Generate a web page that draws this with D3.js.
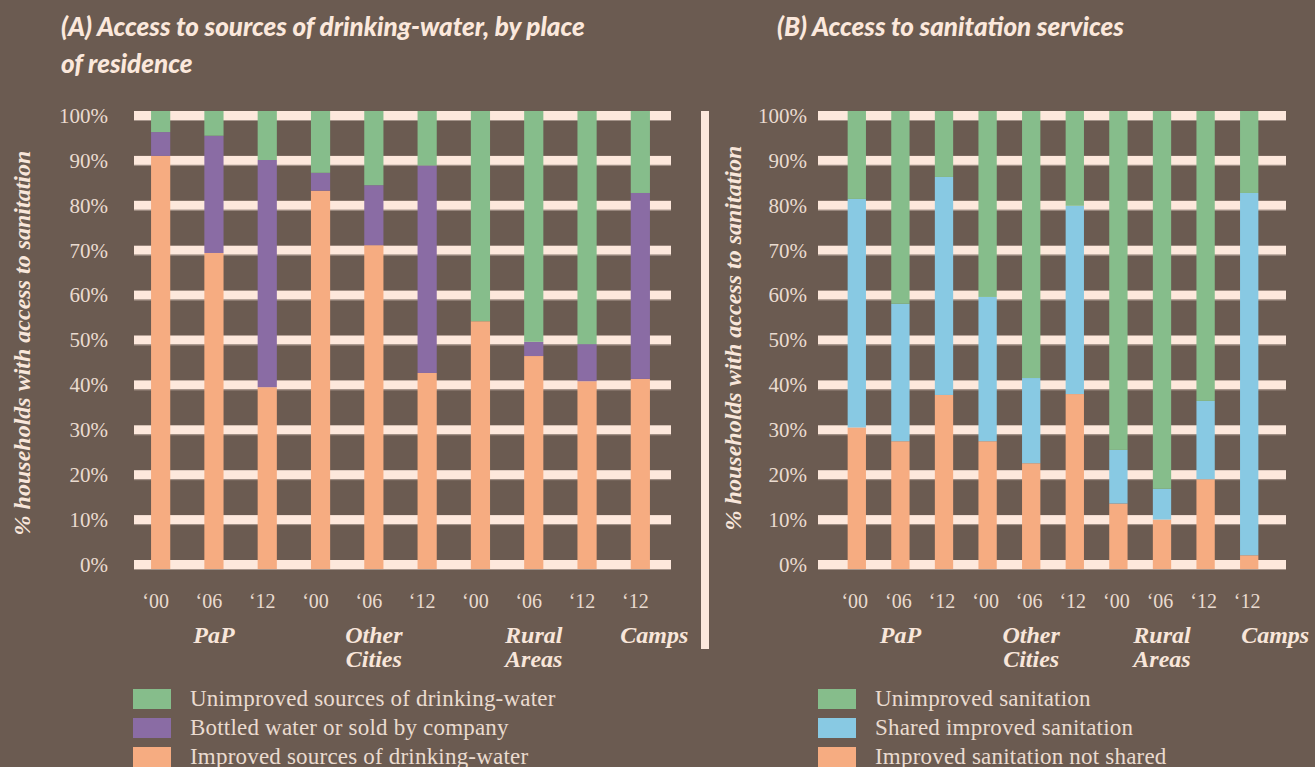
<!DOCTYPE html>
<html><head><meta charset="utf-8">
<script src="https://cdn.jsdelivr.net/npm/d3@7"></script>
<style>
html,body{margin:0;padding:0;background:#6b5b51;}
svg{display:block;}
</style></head>
<body>
<svg id="chart" width="1315" height="767"></svg>
<script>
// ---- data ----
const years = ["\u201800","\u201806","\u201812","\u201800","\u201806","\u201812","\u201800","\u201806","\u201812","\u201812"];
const groupNames = [["PaP"],["Other","Cities"],["Rural","Areas"],["Camps"]];
const groupBars = [[0,1,2],[3,4,5],[6,7,8],[9]];
const yTicks = [0,10,20,30,40,50,60,70,80,90,100];

const waterImproved    = [90.2,69.0,39.7,82.6,70.7,42.8,54.1,46.5,41.0,41.5];
const waterBottled     = [5.2,25.6,49.6,3.9,13.1,45.3,0.0,3.1,8.1,40.6];
const waterUnimproved  = [4.6,5.4,10.7,13.5,16.2,11.9,45.9,50.4,50.9,17.9];

const sanNotShared     = [30.9,27.9,38.0,27.9,23.1,38.2,14.3,10.8,19.6,3.0];
const sanShared        = [49.9,30.0,47.6,31.5,18.6,41.1,11.7,6.7,17.1,79.1];
const sanUnimproved    = [19.2,42.1,14.4,40.6,58.3,20.7,74.0,82.5,63.3,17.9];

const waterLegend = ["Unimproved sources of drinking-water","Bottled water or sold by company","Improved sources of drinking-water"];
const sanLegend = ["Unimproved sanitation","Shared improved sanitation","Improved sanitation not shared"];

// ---- style ----
const C = {bg:"#6b5b51", grid:"#fde8dc", green:"#86bd8b", purple:"#8a6ca4", orange:"#f6ac81", blue:"#88c9e3",
           title:"#fbe8dc", tick:"#eadbd0", label:"#f8e6da"};
const serif = "'Liberation Serif','DejaVu Serif',serif";

const svg = d3.select("#chart");

function panel(opt){
  const g = svg.append("g");
  const n = years.length;
  const x = d3.scaleBand().domain(d3.range(n)).range(opt.xRange).paddingInner(opt.padInner).paddingOuter(opt.padOuter);
  const y = d3.scaleLinear().domain([0,100]).range([569,111]);
  const yg = d3.scaleLinear().domain([0,100]).range([560,111]);

  // gridline bands
  g.selectAll("rect.grid").data(yTicks).join("rect")
    .attr("x",opt.gridX[0]).attr("width",opt.gridX[1]-opt.gridX[0])
    .attr("y",d=>yg(d)).attr("height",9).attr("fill",C.grid);
  g.selectAll("line.gs").data(yTicks).join("line")
    .attr("x1",opt.gridX[0]).attr("x2",opt.gridX[1])
    .attr("y1",d=>yg(d)+9.5).attr("y2",d=>yg(d)+9.5)
    .attr("stroke","#a5948a").attr("stroke-width",1);

  // y tick labels
  g.selectAll("text.yt").data(yTicks).join("text")
    .attr("x",opt.tickX).attr("y",d=>yg(d)+4.5).attr("dy","0.35em")
    .attr("text-anchor","end").attr("fill",C.tick)
    .style("font-family",serif).style("font-size","21px")
    .text(d=>d+"%");

  // stacked bars
  const rows = d3.range(n).map(i=>({i, a:opt.series[0][i], b:opt.series[1][i], c:opt.series[2][i]}));
  const stack = d3.stack().keys(["a","b","c"])(rows);
  const colors = opt.colors;
  g.selectAll("g.layer").data(stack).join("g").attr("fill",(d,k)=>colors[k])
    .selectAll("rect").data(d=>d).join("rect")
    .attr("x",d=>x(d.data.i)).attr("width",x.bandwidth())
    .attr("y",d=>y(Math.min(100,d[1]))).attr("height",d=>Math.max(0,y(d[0])-y(Math.min(100,d[1]))));

  // year labels
  g.selectAll("text.yr").data(years).join("text")
    .attr("x",(d,i)=>x(i)+x.bandwidth()/2+opt.yearDx).attr("y",608)
    .attr("text-anchor","middle").attr("fill",C.tick)
    .style("font-family",serif).style("font-size","20px")
    .text(d=>d);

  // group labels
  groupNames.forEach((lines,gi)=>{
    const bars = groupBars[gi];
    let cx = d3.mean(bars,b=>x(b)+x.bandwidth()/2) + (gi===3?opt.campsDx:0);
    const t = g.append("text").attr("x",cx).attr("y",643).attr("text-anchor","middle")
      .attr("fill",C.label).style("font-family",serif).style("font-size","24px")
      .style("font-weight","bold").style("font-style","italic");
    lines.forEach((l,li)=>t.append("tspan").attr("x",cx).attr("dy",li?24:0).text(l));
  });

  // axis title
  g.append("text").attr("transform",`translate(${opt.axisTitle[0]},${opt.axisTitle[1]}) rotate(-90)`)
    .attr("text-anchor","middle").attr("fill",C.label)
    .style("font-family",serif).style("font-size","24px").style("font-weight","bold").style("font-style","italic")
    .text("% households with access to sanitation");

  // title
  const tt = g.append("text").attr("x",opt.titleX).attr("y",36).attr("fill",C.title)
    .style("font-family","Lato,'Open Sans',sans-serif").style("font-size","26px")
    .style("font-weight","900").style("font-style","italic");
  opt.title.forEach((l,li)=>tt.append("tspan").attr("x",opt.titleX).attr("dy",li?37:0).text(l));

  // legend (top-to-bottom: unimproved, middle, improved)
  const legOrder = [2,1,0];
  opt.legend.forEach((l,k)=>{
    const yy = 689 + k*29;
    g.append("rect").attr("x",opt.legendX).attr("y",yy).attr("width",38).attr("height",20).attr("fill",colors[legOrder[k]]);
    g.append("text").attr("x",opt.legendX+57).attr("y",yy+17).attr("fill",C.tick)
      .style("font-family",serif).style("font-size","23px").style("letter-spacing","0.2px").text(l);
  });
}

panel({
  xRange:[134,667], padInner:0.64, padOuter:0.32, gridX:[134,671], tickX:108,
  series:[waterImproved,waterBottled,waterUnimproved], colors:[C.orange,C.purple,C.green],
  yearDx:-5, campsDx:14, axisTitle:[30,343], titleX:61,
  title:["(A) Access to sources of drinking-water, by place","of residence"],
  legend:waterLegend, legendX:133
});
panel({
  xRange:[835,1271], padInner:0.58, padOuter:0.29, gridX:[818,1286], tickX:807,
  series:[sanNotShared,sanShared,sanUnimproved], colors:[C.orange,C.blue,C.green],
  yearDx:-2, campsDx:26, axisTitle:[741,338], titleX:777,
  title:["(B) Access to sanitation services"],
  legend:sanLegend, legendX:818
});

// divider
svg.append("rect").attr("x",701).attr("y",111).attr("width",8).attr("height",538).attr("fill",C.grid);
</script>
</body></html>
